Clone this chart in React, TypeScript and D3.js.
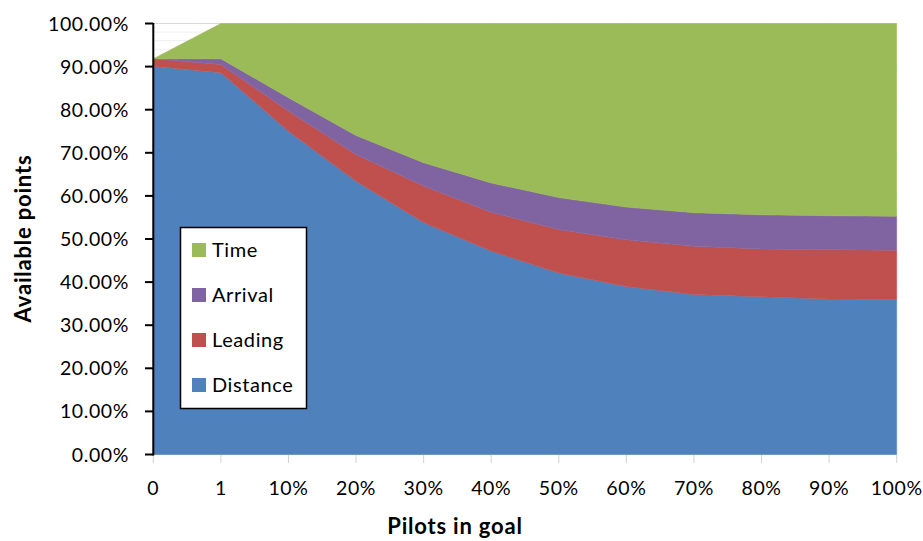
import React from 'react';
import * as d3 from 'd3';

const categories = ['0', '1', '10%', '20%', '30%', '40%', '50%', '60%', '70%', '80%', '90%', '100%'];
const distance = [90.1, 88.6, 75.0, 63.4, 53.8, 47.2, 42.1, 39.0, 37.1, 36.6, 36.1, 36.0];
const leading = [1.7, 1.9, 4.7, 6.2, 8.5, 9.0, 10.1, 10.8, 11.2, 11.1, 11.4, 11.4];
const arrival = [0.0, 1.3, 3.1, 4.4, 5.4, 6.8, 7.4, 7.6, 7.8, 7.9, 7.9, 7.9];
const time = [0.0, 8.2, 17.2, 26.0, 32.3, 37.0, 40.4, 42.6, 43.9, 44.4, 44.6, 44.7];
const seriesNames = ['Distance', 'Leading', 'Arrival', 'Time'];
const seriesColors = ['#4F81BD', '#C0504D', '#8064A2', '#9BBB59'];
const yTicks = [0, 10, 20, 30, 40, 50, 60, 70, 80, 90, 100];

const W = 923;
const H = 541;
const FONT = 'Lato, "Open Sans", sans-serif';

export default function App() {
  const x = d3.scalePoint<string>().domain(categories).range([153.3, 896.7]).padding(0);
  const y = d3.scaleLinear().domain([0, 100]).range([454.5, 23.5]);

  const rows = categories.map((c, i) => ({
    cat: c,
    Distance: distance[i],
    Leading: leading[i],
    Arrival: arrival[i],
    Time: time[i],
  }));
  const stacked = d3.stack<any>().keys(seriesNames)(rows);
  const area = d3
    .area<any>()
    .x((d) => x(d.data.cat) as number)
    .y0((d) => y(d[0]))
    .y1((d) => y(d[1]));

  const minor = d3.range(0, 101, 2);
  const legendItems = [...seriesNames].reverse();
  const fmt = (v: number) => v.toFixed(2) + '%';

  return (
    <svg width={W} height={H} style={{ position: 'absolute', left: 0, top: 0, background: '#fff' }}>
      {minor.map((v) => (
        <line key={'m' + v} x1={153.3} x2={896.7} y1={y(v)} y2={y(v)} stroke={v % 10 === 0 ? '#d9d9d9' : '#efefef'} strokeWidth={1} />
      ))}
      {stacked.map((s, i) => (
        <path key={s.key} d={area(s as any) || ''} fill={seriesColors[i]} stroke={seriesColors[i]} strokeWidth={0.5} />
      ))}
      {categories.map((c) => (
        <line key={'xt' + c} x1={x(c)} x2={x(c)} y1={455} y2={463} stroke="#d0d0d0" strokeWidth={1} />
      ))}
      {categories.map((c) => (
        <text key={'xl' + c} x={x(c)} y={495} textAnchor="middle" fontFamily={FONT} fontSize={19.5} letterSpacing={0.6} fill="#000">
          {c}
        </text>
      ))}
      <line x1={153.3} x2={153.3} y1={23} y2={455.5} stroke="#000" strokeWidth={2} />
      {yTicks.map((v) => (
        <g key={'yt' + v}>
          <line x1={145} x2={153.3} y1={y(v)} y2={y(v)} stroke="#000" strokeWidth={2} />
          <text x={129} y={y(v) + 7} textAnchor="end" fontFamily={FONT} fontSize={19.5} letterSpacing={0.6} fill="#000">
            {fmt(v)}
          </text>
        </g>
      ))}
      <text
        transform={`translate(31,238.5) rotate(-90)`}
        textAnchor="middle"
        fontFamily={FONT}
        fontWeight="bold"
        fontSize={22}
        letterSpacing={0.8}
        fill="#000"
      >
        Available points
      </text>
      <text x={455} y={534} textAnchor="middle" fontFamily={FONT} fontWeight="bold" fontSize={22} letterSpacing={0.8} fill="#000">
        Pilots in goal
      </text>
      <g>
        <rect x={180.5} y={227.5} width={126} height={181} fill="#fff" stroke="#000" strokeWidth={1.5} />
        {legendItems.map((name, i) => {
          const idx = seriesNames.indexOf(name);
          const cy = 250 + i * 45;
          return (
            <g key={'lg' + name}>
              <rect x={192} y={cy - 7} width={14} height={14} fill={seriesColors[idx]} />
              <text x={212} y={cy + 7} fontFamily={FONT} fontSize={20} letterSpacing={0.6} fill="#000">
                {name}
              </text>
            </g>
          );
        })}
      </g>
    </svg>
  );
}
